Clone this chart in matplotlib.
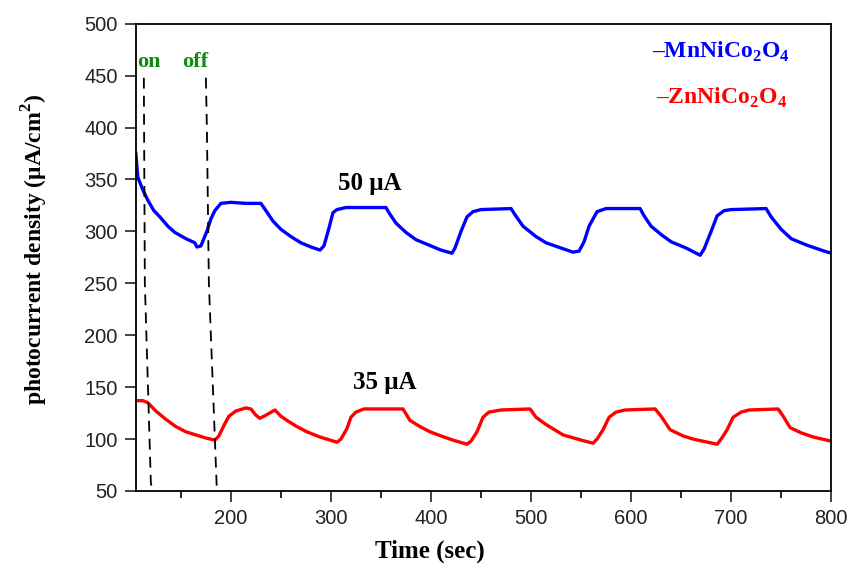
import matplotlib.pyplot as plt

plt.rcParams['mathtext.fontset'] = 'custom'
plt.rcParams['mathtext.rm'] = 'Liberation Serif:bold'
plt.rcParams['mathtext.bf'] = 'Liberation Serif:bold'

# MnNiCo2O4 (blue)
mn_x = [105, 107, 112, 117, 123, 129, 137, 144, 155, 164, 166, 170, 176, 180, 184, 190,
        200, 215, 230, 235, 242, 250, 260, 270, 280, 289, 293, 298, 302, 306, 315, 330,
        355, 358, 365, 375, 385, 400, 410, 421, 424, 430, 436, 442, 450, 480, 484, 492,
        505, 515, 530, 542, 548, 553, 558, 566, 575, 609, 613, 620, 630, 640, 655, 669,
        673, 680, 686, 693, 700, 735, 740, 750, 760, 775, 790, 800]
mn_y = [375, 352, 340, 330, 320, 314, 305, 299, 293, 289, 285, 286, 300, 312, 320, 327,
        328, 327, 327, 320, 310, 302, 295, 289, 285, 282, 286, 303, 318, 321, 323, 323,
        323, 318, 308, 299, 292, 286, 282, 279, 284, 300, 314, 319, 321, 322, 316, 305,
        295, 289, 284, 280, 281, 290, 305, 319, 322, 322, 315, 305, 297, 290, 284, 277,
        283, 300, 315, 320, 321, 322, 314, 302, 293, 287, 282, 279]

# ZnNiCo2O4 (red)
zn_x = [105, 112, 117, 125, 135, 145, 155, 165, 175, 184, 188, 193, 198, 205, 215, 220,
        225, 229, 235, 244, 250, 256, 266, 276, 289, 306, 310, 316, 320, 325, 333, 350,
        372, 379, 389, 399, 410, 422, 436, 440, 446, 452, 458, 470, 499, 505, 515, 532,
        550, 562, 566, 572, 578, 585, 594, 624, 630, 639, 652, 662, 686, 690, 696, 702,
        710, 718, 747, 752, 759, 770, 782, 800]
zn_y = [137, 137, 135, 127, 119, 112, 107, 104, 101, 99, 103, 113, 122, 127, 130, 129,
        123, 120, 123, 128, 122, 118, 112, 107, 102, 97, 100, 110, 121, 126, 129, 129,
        129, 118, 112, 107, 103, 99, 95, 98, 107, 121, 126, 128, 129, 121, 114, 104,
        99, 96, 100, 109, 121, 126, 128, 129, 122, 109, 103, 100, 95, 100, 109, 121,
        126, 128, 129, 122, 111, 106, 102, 98]

# light on / off marker lines
on_x = [113, 114, 120, 121]
on_y = [448, 250, 58, 53]
off_x = [175, 176, 178, 186]
off_y = [448, 400, 250, 50]

fig = plt.figure(figsize=(8.49, 5.65), dpi=100)
ax = fig.add_axes([0.160, 0.131, 0.819, 0.827])

ax.plot(mn_x, mn_y, color='#0000ff', lw=2.4)
ax.plot(zn_x, zn_y, color='#ff0000', lw=2.4)
ax.plot(on_x, on_y, color='black', lw=1.3, ls=(0, (6, 4)))
ax.plot(off_x, off_y, color='black', lw=1.3, ls=(0, (6, 4)))

ax.set_xlim(105, 800)
ax.set_ylim(50, 500)
ax.set_xticks([200, 300, 400, 500, 600, 700, 800])
ax.set_xticks([150, 250, 350, 450, 550, 650, 750], minor=True)
ax.set_yticks(range(50, 501, 50))
ax.tick_params(direction='out', length=8, width=1.2, labelsize=14.5,
               colors='#222222', pad=5)
ax.tick_params(which='minor', direction='out', length=5, width=1.2)
for lab in ax.get_xticklabels() + ax.get_yticklabels():
    lab.set_fontfamily('Liberation Sans')
for sp in ax.spines.values():
    sp.set_linewidth(1.3)

serif = 'Liberation Serif'
ax.set_xlabel('Time (sec)', fontsize=18, fontweight='bold', family=serif)
ax.xaxis.set_label_coords(0.423, -0.103)
ax.set_ylabel('photocurrent density (μA/cm$^2$)', fontsize=17, fontweight='bold',
              family=serif)
ax.yaxis.set_label_coords(-0.124, 0.516)

ax.text(0.019, 0.918, 'on', transform=ax.transAxes, color='#118a11', fontsize=16,
        fontweight='bold', family=serif, va='center', ha='center')
ax.text(0.086, 0.918, 'off', transform=ax.transAxes, color='#118a11', fontsize=16,
        fontweight='bold', family=serif, va='center', ha='center')

ax.text(0.842, 0.94, '–MnNiCo$_2$O$_4$', transform=ax.transAxes, color='#0000ff',
        fontsize=17, fontweight='bold', family=serif, va='center', ha='center')
ax.text(0.842, 0.842, '–ZnNiCo$_2$O$_4$', transform=ax.transAxes, color='#ff0000',
        fontsize=17, fontweight='bold', family=serif, va='center', ha='center')

ax.text(339, 346, '50 μA', fontsize=18, fontweight='bold', family=serif,
        ha='center', va='center')
ax.text(354, 154, '35 μA', fontsize=18, fontweight='bold', family=serif,
        ha='center', va='center')

fig.savefig('out.png', dpi=100)
